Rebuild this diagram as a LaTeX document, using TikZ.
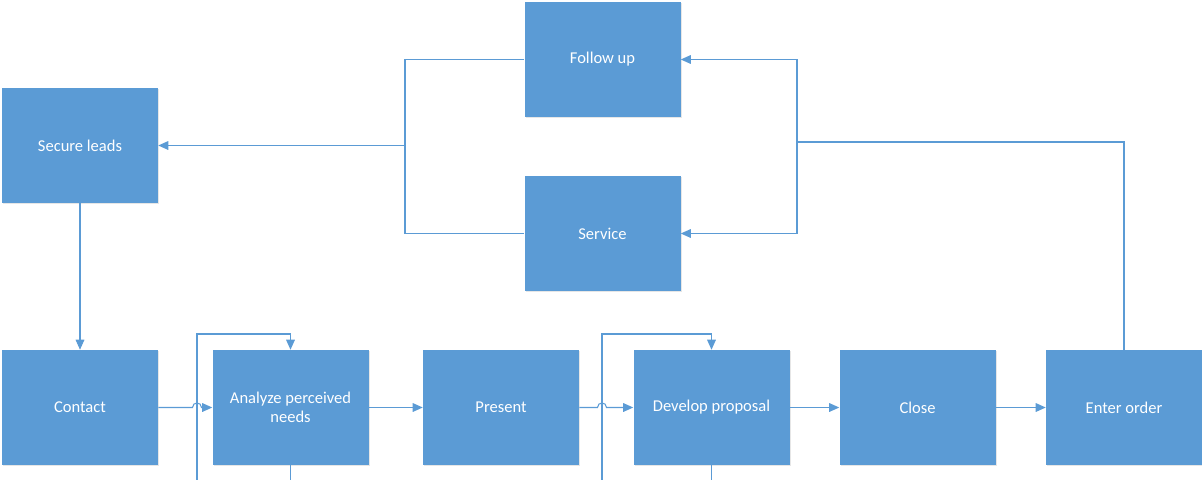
\documentclass[tikz,border=0pt]{standalone}
\usepackage{fontspec}
\setmainfont{Carlito}
\usetikzlibrary{arrows.meta,shadows,calc}
\definecolor{blu}{HTML}{5B9BD5}
\begin{document}
\begin{tikzpicture}[x=0.75pt,y=-0.75pt,
  box/.style={fill=blu, draw=none, text=white, minimum width=117pt, minimum height=86.25pt,
    inner sep=0pt, align=center, font=\fontsize{12.4}{14.4}\selectfont,
    drop shadow={opacity=0.2, shadow xshift=0.8pt, shadow yshift=-0.8pt}},
  conn/.style={draw=blu, line width=0.8pt},
  arr/.style={conn, -{Triangle[length=7.5pt,width=6.5pt]}}]
\useasboundingbox (0,0) rectangle (1202,479);
\clip (0,0) rectangle (1202,479);
\node[box] (sl) at (80,145.5) {Secure leads};
\node[box] (fu) at (602.5,59.5) {Follow up};
\node[box] (sv) at (602.5,233.5) {Service};
\node[box] (ct) at (80,407.5) {Contact};
\node[box] (an) at (290.5,407.5) {Analyze perceived\\needs};
\node[box] (pr) at (501,407.5) {Present};
\node[box] (dp) at (711.5,407.5) {Develop proposal};
\node[box] (cl) at (917.5,407.5) {Close};
\node[box] (eo) at (1124,407.5) {Enter order};
% loops below the bottom row
\coordinate (l1a) at (197,334);
\coordinate (l1b) at (197,500);
\coordinate (l2a) at (602,334);
\coordinate (l2b) at (602,500);
\draw[arr] (an.south) -- (an.south |- l1b) -- (l1b) -- (l1a) -- (l1a -| an.north) -- (an.north);
\draw[arr] (dp.south) -- (dp.south |- l2b) -- (l2b) -- (l2a) -- (l2a -| dp.north) -- (dp.north);
% main flow
\draw[arr] (sl.south) -- (ct.north);
\draw[arr] (ct.east) -- ($(l1a|-ct.east)+(-4.5,0)$) .. controls +(0,-6) and +(0,-6) .. ($(l1a|-ct.east)+(4.5,0)$) -- (an.west);
\draw[arr] (an.east) -- (pr.west);
\draw[arr] (pr.east) -- ($(l2a|-pr.east)+(-4.5,0)$) .. controls +(0,-6) and +(0,-6) .. ($(l2a|-pr.east)+(4.5,0)$) -- (dp.west);
\draw[arr] (dp.east) -- (cl.west);
\draw[arr] (cl.east) -- (eo.west);
% feedback
\coordinate (r) at (797,142);
\draw[conn] (eo.north) |- (r);
\draw[arr] (r) |- (fu.east);
\draw[arr] (r) |- (sv.east);
\coordinate (l) at (405,145.5);
\draw[conn] (fu.west) -| (l) |- (sv.west);
\draw[arr] (l) -- (sl.east);
\end{tikzpicture}
\end{document}
